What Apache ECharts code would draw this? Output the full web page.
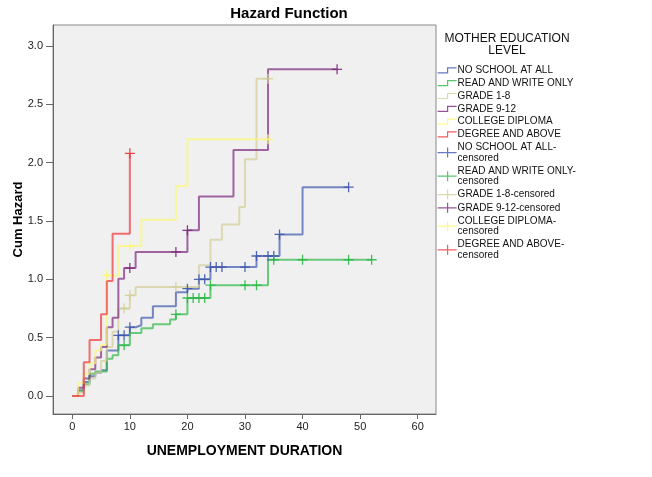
<!DOCTYPE html>
<html><head><meta charset="utf-8">
<script src="https://cdn.jsdelivr.net/npm/echarts@6/dist/echarts.min.js"></script>
<style>html,body{margin:0;padding:0;background:#fff}#c{width:652px;height:477px}</style>
</head><body><div id="c"></div>
<script>
// ---- data ----
const groupNames = ['NO SCHOOL AT ALL','READ AND WRITE ONLY','GRADE 1-8','GRADE 9-12','COLLEGE DIPLOMA','DEGREE AND ABOVE'];
const groupColors = ['#3E58AC','#2EB848','#D3CE97','#7C287D','#FBF873','#EF3338'];

const noSchoolT = [0,1,2,3,4,5,6,8,10,11,12,14,18,20,22,24,32,36,40];
const noSchoolH = [0,0.05,0.12,0.17,0.20,0.22,0.39,0.52,0.59,0.607,0.67,0.77,0.89,0.92,1.0,1.105,1.2,1.385,1.79];
const noSchoolEnd = 48;
const noSchoolCens = [8,9,10,20,22,23,24,25,26,30,32,34,35,36,48];

const readWriteT = [0,1,2,3,4,6,7,8,10,12,14,17,18,20,24,34];
const readWriteH = [0,0.04,0.10,0.19,0.21,0.32,0.35,0.436,0.54,0.58,0.615,0.655,0.70,0.84,0.95,1.168];
const readWriteEnd = 52;
const readWriteCens = [9,18,20,21,22,23,24,30,32,35,40,48,52];

const grade18T = [0,1,2,3,4,5,6,7,8,10,11,22,24,26,29,30,32];
const grade18H = [0,0.03,0.09,0.15,0.20,0.30,0.42,0.55,0.75,0.863,0.934,1.12,1.34,1.47,1.62,2.03,2.72];
const grade18End = 34;
const grade18Cens = [9,10,18,34];

const grade912T = [0,1,2,3,4,5,6,7,8,9,11,20,22,28,34];
const grade912H = [0,0.07,0.15,0.23,0.33,0.42,0.59,0.67,1.006,1.097,1.235,1.42,1.71,2.108,2.80];
const grade912End = 46;
const grade912Cens = [10,18,20,46];

const collegeT = [0,1,2,3,4,5,6,8,12,18,20];
const collegeH = [0,0.11,0.19,0.28,0.39,0.44,1.034,1.285,1.51,1.80,2.20];
const collegeEnd = 34;
const collegeCens = [6,10,34];

const degreeT = [0,2,3,5,6,7,10];
const degreeH = [0,0.29,0.48,0.70,0.985,1.39,2.08];
const degreeEnd = 10;
const degreeCens = [10];

const xTicks = [0,10,20,30,40,50,60];
const yTicks = [0,0.5,1.0,1.5,2.0,2.5,3.0];

// ---- build ----
const groupsData = [
  [noSchoolT, noSchoolH, noSchoolEnd, noSchoolCens],
  [readWriteT, readWriteH, readWriteEnd, readWriteCens],
  [grade18T, grade18H, grade18End, grade18Cens],
  [grade912T, grade912H, grade912End, grade912Cens],
  [collegeT, collegeH, collegeEnd, collegeCens],
  [degreeT, degreeH, degreeEnd, degreeCens]
];
function hAt(T, H, t) {
  let v = H[0];
  for (let i = 0; i < T.length; i++) if (T[i] <= t) v = H[i];
  return v;
}
const stepIcon = 'path://M0,5L10,5L10,0L19,0';
const crossIcon = 'path://M0,5L19,5M10,0L10,10';
const crossSymbol = 'path://M0,5L10,5M5,0L5,10';
const FONT = 'Liberation Sans, Arial, sans-serif';

const series = [];
const legendData = [];
groupsData.forEach((g, i) => {
  const [T, H, end] = g;
  const d = T.map((t, k) => [t, H[k]]);
  d.push([end, H[H.length - 1]]);
  series.push({
    name: groupNames[i], type: 'line', step: 'end', data: d,
    symbol: 'none', showSymbol: false, silent: true,
    lineStyle: {color: groupColors[i], width: 2, opacity: 0.7},
    itemStyle: {color: groupColors[i]}, z: 2
  });
  legendData.push({name: groupNames[i], icon: stepIcon,
    itemStyle: {color: 'transparent', borderColor: groupColors[i], borderWidth: 1.2, opacity: 0.8}});
});
groupsData.forEach((g, i) => {
  const [T, H, end, C] = g;
  const nm = groupNames[i] + '-censored';
  series.push({
    name: nm, type: 'scatter', data: C.map(t => [t, hAt(T, H, t)]),
    symbol: crossSymbol, symbolSize: 10, silent: true,
    itemStyle: {color: 'transparent', borderColor: groupColors[i], borderWidth: 1.3, opacity: 0.9}, z: 3
  });
  legendData.push({name: nm, icon: crossIcon,
    itemStyle: {color: 'transparent', borderColor: groupColors[i], borderWidth: 1.2, opacity: 0.8}});
});

const chart = echarts.init(document.getElementById('c'), null, {renderer: 'canvas'});
chart.setOption({
  animation: false,
  backgroundColor: '#ffffff',
  title: [
    {text: 'Hazard Function', left: 289, top: 6, padding: 0, textAlign: 'center',
     textStyle: {fontFamily: FONT, fontSize: 15, fontWeight: 'bold', color: '#000'}},
    {text: 'MOTHER EDUCATION\nLEVEL', left: 507, top: 32, padding: 0, textAlign: 'center',
     textStyle: {fontFamily: FONT, fontSize: 12, fontWeight: 'normal', color: '#111', lineHeight: 12.7}}
  ],
  legend: {
    orient: 'vertical', left: 437, top: 65, padding: 0, itemGap: 2,
    itemWidth: 19, itemHeight: 10, selectedMode: false,
    data: legendData,
    formatter: n => n.length > 20 ? n.replace('-censored', '-\ncensored') : n,
    textStyle: {fontFamily: FONT, fontSize: 10, color: '#111', lineHeight: 10.8, padding: [0,0,0,-4]}
  },
  grid: {left: 53, top: 25, right: 216, bottom: 63, show: true, backgroundColor: '#f0f0f0', borderColor: '#888', borderWidth: 1, containLabel: false, outerBoundsMode: 'none'},
  xAxis: {
    type: 'value', min: -3.35, max: 63.18,
    name: 'UNEMPLOYMENT DURATION', nameLocation: 'middle', nameGap: 30, nameMoveOverlap: false,
    nameTextStyle: {fontFamily: FONT, fontSize: 14, fontWeight: 'bold', color: '#000'},
    axisLine: {show: true, onZero: false, lineStyle: {color: '#666', width: 1}},
    axisTick: {show: true, length: 5, lineStyle: {color: '#666'}, customValues: xTicks},
    axisLabel: {customValues: xTicks, margin: 7, fontFamily: FONT, fontSize: 11, color: '#222'},
    splitLine: {show: false}
  },
  yAxis: {
    type: 'value', min: -0.154, max: 3.18,
    name: 'Cum Hazard', nameLocation: 'middle', nameGap: 28, nameMoveOverlap: false,
    nameTextStyle: {fontFamily: FONT, fontSize: 13, fontWeight: 'bold', color: '#000'},
    axisLine: {show: true, onZero: false, lineStyle: {color: '#666', width: 1}},
    axisTick: {show: true, length: 7, lineStyle: {color: '#666'}, customValues: yTicks},
    axisLabel: {customValues: yTicks, margin: 10, formatter: v => Number(v).toFixed(1), fontFamily: FONT, fontSize: 11, color: '#222'},
    splitLine: {show: false}
  },
  series: series
});
</script>
</body></html>
